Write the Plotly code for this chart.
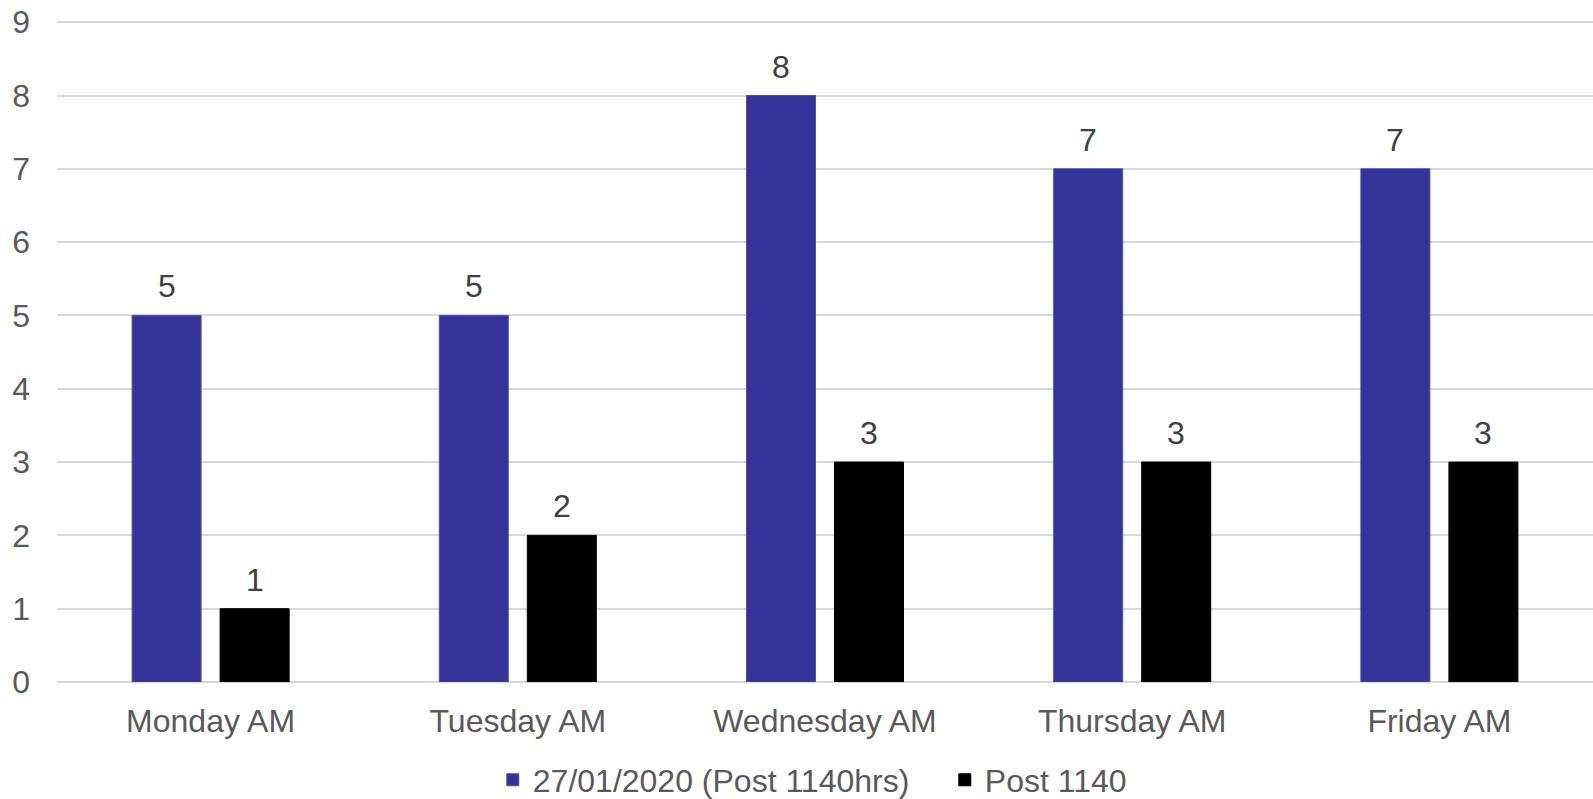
import plotly.graph_objects as go

categories = ["Monday AM", "Tuesday AM", "Wednesday AM", "Thursday AM", "Friday AM"]
series_names = ["27/01/2020 (Post 1140hrs)", "Post 1140"]
series_a = [5, 5, 8, 7, 7]
series_b = [1, 2, 3, 3, 3]
y_ticks = [0, 1, 2, 3, 4, 5, 6, 7, 8, 9]

colors = ["#333399", "#000000"]
edge_colors = ["#4d4dab", "#000000"]
FONT = "Liberation Sans, Arial, sans-serif"
FS = 32

W, H = 1593, 799
ML, MR, MT, MB = 57, 0, 20, 117
BARGAP, GROUPGAP = 0.427, 0.216

fig = go.Figure()
for name, vals, col, ec in zip(series_names, [series_a, series_b], colors, edge_colors):
    fig.add_trace(go.Bar(
        x=categories, y=vals, name=name,
        marker=dict(color=col, line=dict(width=1, color=ec)),
        hoverinfo="x+y",
    ))

# data labels above bars
plot_w = W - ML - MR
cat_w = plot_w / len(categories)
slot = cat_w * (1 - BARGAP) / 2
for j, vals in enumerate([series_a, series_b]):
    xs = (j - 0.5) * slot
    for c, v in zip(categories, vals):
        fig.add_annotation(
            x=c, y=v, text=str(v), showarrow=False,
            xshift=xs, yshift=29, yanchor="middle",
            font=dict(family=FONT, size=FS, color="#404040"),
        )

fig.update_layout(
    width=W, height=H,
    margin=dict(l=ML, r=MR, t=MT, b=MB, pad=0, autoexpand=False),
    paper_bgcolor="white", plot_bgcolor="white",
    barmode="group", bargap=BARGAP, bargroupgap=GROUPGAP,
    font=dict(family=FONT, size=FS, color="#595959"),
    showlegend=True,
    legend=dict(
        orientation="h", x=0.578, xanchor="center", y=-0.148, yanchor="middle",
        font=dict(family=FONT, size=FS, color="#595959"),
        itemwidth=30, traceorder="normal",
        entrywidth=407, entrywidthmode="pixels",
    ),
    xaxis=dict(
        showgrid=False, showline=False, zeroline=False, automargin=False,
        tickfont=dict(family=FONT, size=FS, color="#595959"),
        ticklabelstandoff=17,
    ),
    yaxis=dict(
        range=[0, 9.03], tickvals=y_ticks, showgrid=True, automargin=False,
        gridcolor="#d9d9d9", gridwidth=1.5,
        zeroline=True, zerolinecolor="#d9d9d9", zerolinewidth=1.5,
        showline=False, ticklabeloverflow="allow",
        tickfont=dict(family=FONT, size=FS, color="#595959"),
        ticklabelstandoff=26,
    ),
)

fig.write_html(
    "out.html",
    config={"displayModeBar": False},
    post_script="document.body.style.margin='0';document.body.style.overflow='hidden';",
)
